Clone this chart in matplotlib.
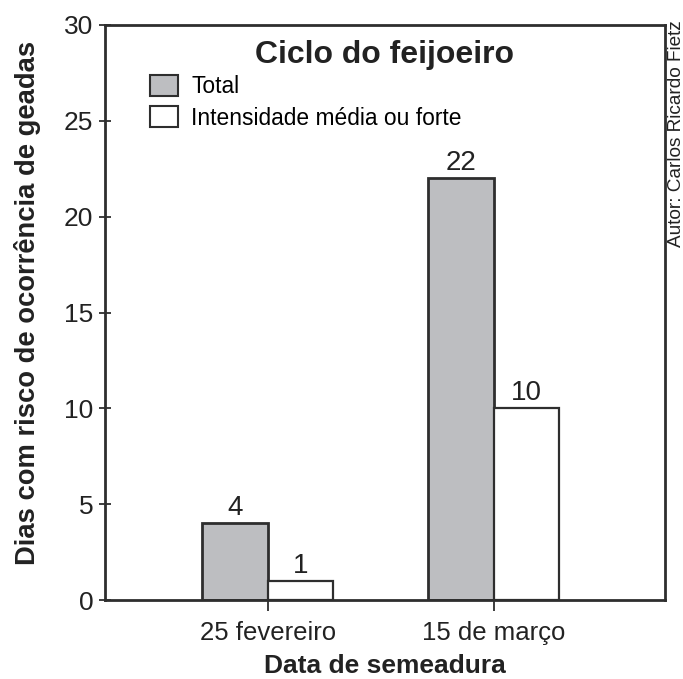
import matplotlib.pyplot as plt
from matplotlib.patches import Patch
import numpy as np

plt.rcParams['font.family'] = ['Liberation Sans', 'DejaVu Sans']

categories = ['25 fevereiro', '15 de março']
total = [4, 22]
intensidade = [1, 10]
series_names = ['Total', 'Intensidade média ou forte']

edge = '#2e2e2e'
gray = '#bdbec1'
txt = '#222222'

fig = plt.figure(figsize=(6.83, 6.79), dpi=100)
ax = fig.add_axes([0.1537, 0.1163, 0.8199, 0.8469])

x = np.arange(len(categories))
w = 0.29
b1 = ax.bar(x - w / 2, total, w, color=gray, edgecolor=edge, linewidth=2)
b2 = ax.bar(x + w / 2, intensidade, w, color='white', edgecolor=edge, linewidth=1.6)

for bars, vals in ((b1, total), (b2, intensidade)):
    for r, v in zip(bars, vals):
        ax.text(r.get_x() + r.get_width() / 2, v + 0.1, str(v),
                ha='center', va='bottom', fontsize=20, color=txt)

ax.set_xlim(-0.72, 1.757)
ax.set_ylim(0, 30)
ax.set_yticks([0, 5, 10, 15, 20, 25, 30])
ax.set_xticks(x)
ax.set_xticklabels(categories)
ax.tick_params(axis='y', direction='inout', length=9, width=1.3,
               labelsize=19, colors=edge, labelcolor=txt, pad=4)
ax.tick_params(axis='x', direction='out', length=8, width=1.3,
               labelsize=18.5, colors=edge, labelcolor=txt, pad=7)
for s in ax.spines.values():
    s.set_linewidth(2)
    s.set_color(edge)

ax.set_ylabel('Dias com risco de ocorrência de geadas', fontsize=19.7,
              fontweight='bold', color=txt, ha='center', va='center')
ax.yaxis.set_label_coords(-0.139, 0.517)
ax.set_xlabel('Data de semeadura', fontsize=19, fontweight='bold',
              color=txt, ha='center', va='baseline')
ax.xaxis.set_label_coords(0.5, -0.1265)

ax.text(0.5, 0.974, 'Ciclo do feijoeiro', transform=ax.transAxes,
        ha='center', va='top', fontsize=23, fontweight='bold', color=txt)

handles = [Patch(facecolor=gray, edgecolor=edge, linewidth=1.5),
           Patch(facecolor='white', edgecolor=edge, linewidth=1.5)]
ax.legend(handles, series_names, loc='upper left', bbox_to_anchor=(0.080, 0.913),
          frameon=False, fontsize=16.4, handlelength=1.25, handleheight=1.05,
          handletextpad=0.57, labelspacing=0.35, borderaxespad=0, borderpad=0)

fig.text(0.9898, 0.9705, 'Autor: Carlos Ricardo Fietz', rotation=90,
         ha='center', va='top', fontsize=13.7, color=txt)

fig.savefig('out.png', dpi=100)
